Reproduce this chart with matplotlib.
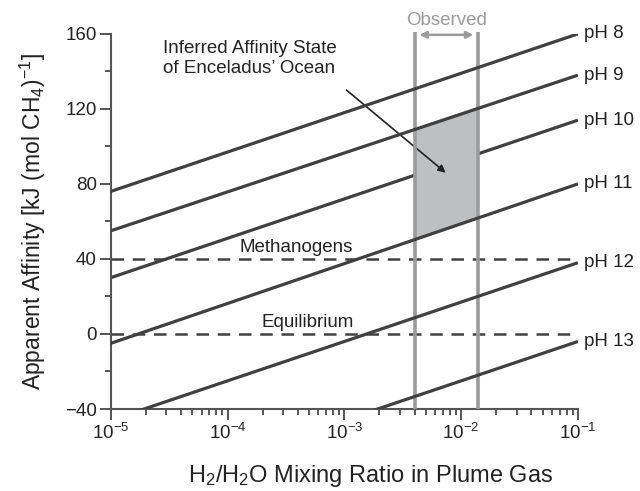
import numpy as np
import matplotlib
matplotlib.use('Agg')
import matplotlib.pyplot as plt

plt.rcParams['font.family'] = ['Liberation Sans', 'DejaVu Sans']
plt.rcParams['mathtext.fontset'] = 'custom'
plt.rcParams['mathtext.rm'] = 'Liberation Sans'
plt.rcParams['mathtext.it'] = 'Liberation Sans:italic'

# dados
x_ends = [1e-5, 1e-1]
ph_labels = ['pH 8', 'pH 9', 'pH 10', 'pH 11', 'pH 12', 'pH 13']
affinity_lo = [76, 55, 30, -5, -46, -88]     # em x = 1e-5
affinity_hi = [160, 138, 114, 80, 38, -4]    # em x = 1e-1
methanogens = 40
equilibrium = 0
observed = [4.0e-3, 1.4e-2]

line_col = '#404040'
obs_col = '#9b9b9b'
txt_col = '#222222'
fs = 13.5

fig = plt.figure(figsize=(6.4, 4.91), dpi=100)
ax = fig.add_axes([0.173, 0.167, 0.730, 0.764])
ax.set_xscale('log')
ax.set_xlim(1e-5, 1e-1)
ax.set_ylim(-40, 160)

# linhas de pH
for lab, lo, hi in zip(ph_labels, affinity_lo, affinity_hi):
    z = 2 if lab == 'pH 10' else 5
    ax.plot(x_ends, [lo, hi], color=line_col, lw=2.3, zorder=z, solid_capstyle='butt')
    ax.text(1.12e-1, hi, lab, fontsize=fs, color=txt_col, va='center', ha='left', clip_on=False)

# linhas tracejadas
ax.plot(x_ends, [methanogens] * 2, color=line_col, lw=1.8, ls=(0, (5, 3.5)), zorder=2)
ax.plot(x_ends, [equilibrium] * 2, color=line_col, lw=1.8, ls=(0, (5, 3.5)), zorder=2)
ax.text(3.9e-4, 43.5, 'Methanogens', fontsize=fs, ha='center', va='baseline', color=txt_col)
ax.text(4.9e-4, 3.5, 'Equilibrium', fontsize=fs, ha='center', va='baseline', color=txt_col)

# regiao inferida (entre pH 9 e pH 11)
slope9 = (affinity_hi[1] - affinity_lo[1]) / 4
slope11 = (affinity_hi[3] - affinity_lo[3]) / 4
xs = np.array(observed)
top = affinity_lo[1] + slope9 * (np.log10(xs) + 5)
bot = affinity_lo[3] + slope11 * (np.log10(xs) + 5)
ax.fill_between(xs, bot, top, color='#bebfc1', lw=0, zorder=3)

# faixa observada
ax.vlines(observed, -40, 160.8, color=obs_col, lw=2.6, zorder=4, clip_on=False)
ax.annotate('', xy=(observed[0] * 1.04, 159.5), xytext=(observed[1] / 1.04, 159.5),
            arrowprops=dict(arrowstyle='<|-|>', color=obs_col, lw=1.8, mutation_scale=10),
            annotation_clip=False)
ax.text(np.sqrt(observed[0] * observed[1]), 167, 'Observed', color=obs_col, fontsize=fs,
        ha='center', va='center', clip_on=False)

ax.text(2.8e-5, 156.5, "Inferred Affinity State\nof Enceladus\u2019 Ocean", fontsize=fs,
        ha='left', va='top', color=txt_col, linespacing=1.2)
ax.annotate('', xy=(7.7e-3, 85), xytext=(1.0e-3, 131),
            arrowprops=dict(arrowstyle='-|>', color=txt_col, lw=1.2, mutation_scale=11))

# eixos
for s in ['top', 'right']:
    ax.spines[s].set_visible(False)
for s in ['left', 'bottom']:
    ax.spines[s].set_color('#555555')
    ax.spines[s].set_linewidth(1.5)
ax.set_yticks([-40, 0, 40, 80, 120, 160])
ax.set_yticks(np.arange(-20, 160, 40), minor=True)
ax.set_yticklabels(['\u221240', '0', '40', '80', '120', '160'])
ax.tick_params(which='major', length=8, width=1.4, color='#555555', labelsize=fs,
               labelcolor=txt_col, pad=2)
ax.tick_params(which='minor', length=4, width=1.4, color='#555555')
ax.set_xlabel('H$_2$/H$_2$O Mixing Ratio in Plume Gas', fontsize=17, color=txt_col)
ax.xaxis.label.set_va('baseline')
ax.xaxis.set_label_coords(0.557, -0.195)
ax.set_ylabel('Apparent Affinity [kJ (mol CH$_4$)$^{-1}$]', fontsize=16.5, color=txt_col, labelpad=12)

fig.savefig('out.png', dpi=100)
